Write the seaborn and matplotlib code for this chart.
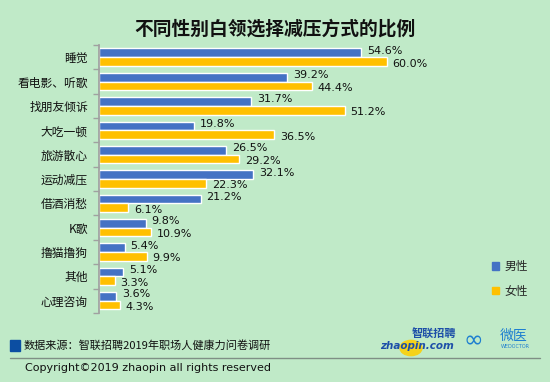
import numpy as np
import pandas as pd
import seaborn as sns
import matplotlib.pyplot as plt
from matplotlib.patches import Rectangle, Circle
from matplotlib.lines import Line2D

# data
categories = ["睡觉", "看电影、听歌", "找朋友倾诉", "大吃一顿", "旅游散心", "运动减压",
              "借酒消愁", "K歌", "撸猫撸狗", "其他", "心理咨询"]
male = [54.6, 39.2, 31.7, 19.8, 26.5, 32.1, 21.2, 9.8, 5.4, 5.1, 3.6]
female = [60.0, 44.4, 51.2, 36.5, 29.2, 22.3, 6.1, 10.9, 9.9, 3.3, 4.3]
series = ["男性", "女性"]
colors = ["#4472C4", "#FFC000"]

df = pd.DataFrame({
    "方式": categories * 2,
    "比例": male + female,
    "性别": [series[0]] * len(categories) + [series[1]] * len(categories),
})

bg = "#C0EAC8"
sns.set_theme(style="white")
plt.rcParams["font.family"] = ["Noto Sans CJK SC", "DejaVu Sans"]

fig = plt.figure(figsize=(5.5, 3.82), dpi=100, facecolor=bg)
ax = fig.add_axes([0.18, 0.181, 0.62, 0.701])
ax.set_facecolor(bg)

sns.barplot(data=df, y="方式", x="比例", hue="性别", palette=colors, width=0.72,
            orient="h", ax=ax, legend=False, saturation=1)

# value labels
for cont, dy in zip(ax.containers, [1.5, -1.5]):
    for p in cont.patches:
        ax.annotate(f"{p.get_width():.1f}%",
                    xy=(p.get_width(), p.get_y() + p.get_height() / 2),
                    xytext=(4, dy), textcoords="offset points",
                    va="center", ha="left", fontsize=8, color="#111111",
                    family=["DejaVu Sans"])

ax.set_xlim(0, 71)
ax.set_ylim(len(categories) - 0.5, -0.5)
ax.set_xlabel("")
ax.set_ylabel("")
ax.set_xticks([])
ax.set_yticks(range(len(categories)))
ax.set_yticklabels(categories, fontsize=8.5, color="#111111")
ax.set_yticks(np.arange(-0.5, len(categories), 1), minor=True)
ax.tick_params(axis="y", which="major", length=0, pad=8)
ax.tick_params(axis="y", which="minor", length=4, color="#A0A0A0", width=1, left=True)
for s in ["top", "right", "bottom"]:
    ax.spines[s].set_visible(False)
ax.spines["left"].set_color("#A0A0A0")

# legend
handles = [Rectangle((0, 0), 1, 1, color=c) for c in colors]
fig.legend(handles, series, loc="center left", bbox_to_anchor=(0.875, 0.27),
           frameon=False, fontsize=8.5, handlelength=0.6, handleheight=0.6,
           handletextpad=0.5, labelspacing=1.0)

fig.text(0.5, 0.925, "不同性别白领选择减压方式的比例", ha="center", va="center",
         fontsize=13.5, fontweight="bold", color="#111111")

# footer
fig.patches.append(Rectangle((10 / 550, 1 - 351 / 382), 10 / 550, 11 / 382,
                             transform=fig.transFigure, color="#0B4EA2"))
fig.text(24 / 550, 1 - 345 / 382, "数据来源：智联招聘2019年职场人健康力问卷调研",
         fontsize=8, va="center", color="#111111")
fig.lines.append(Line2D([10 / 550, 540 / 550], [1 - 358 / 382] * 2,
                        transform=fig.transFigure, color="#7F8F85", lw=1))
fig.text(25 / 550, 1 - 368 / 382, "Copyright©2019 zhaopin all rights reserved",
         fontsize=8, va="center", color="#111111", family=["DejaVu Sans"])

# logos (approximation)
fig.patches.append(Circle((411 / 550, 1 - 348 / 382), 11 / 550, transform=fig.transFigure,
                          color="#F5D21A", zorder=0))
fig.text(380 / 550, 1 - 346 / 382, "zhaopin.com", fontsize=7.5, fontweight="bold",
         style="italic", color="#1D4FA8", va="center", family=["DejaVu Sans"])
fig.text(412 / 550, 1 - 334 / 382, "智联招聘", fontsize=8, fontweight="bold",
         color="#1D4FA8", va="center")
fig.text(464 / 550, 1 - 340 / 382, "∞", fontsize=17, color="#1E7FD0", va="center",
         family=["DejaVu Sans"])
fig.text(500 / 550, 1 - 336 / 382, "微医", fontsize=10, color="#1E7FD0", va="center")
fig.text(501 / 550, 1 - 347 / 382, "WEDOCTOR", fontsize=3.5, color="#1E7FD0", va="center",
         family=["DejaVu Sans"])

fig.savefig("out.png", dpi=100, facecolor=bg)
